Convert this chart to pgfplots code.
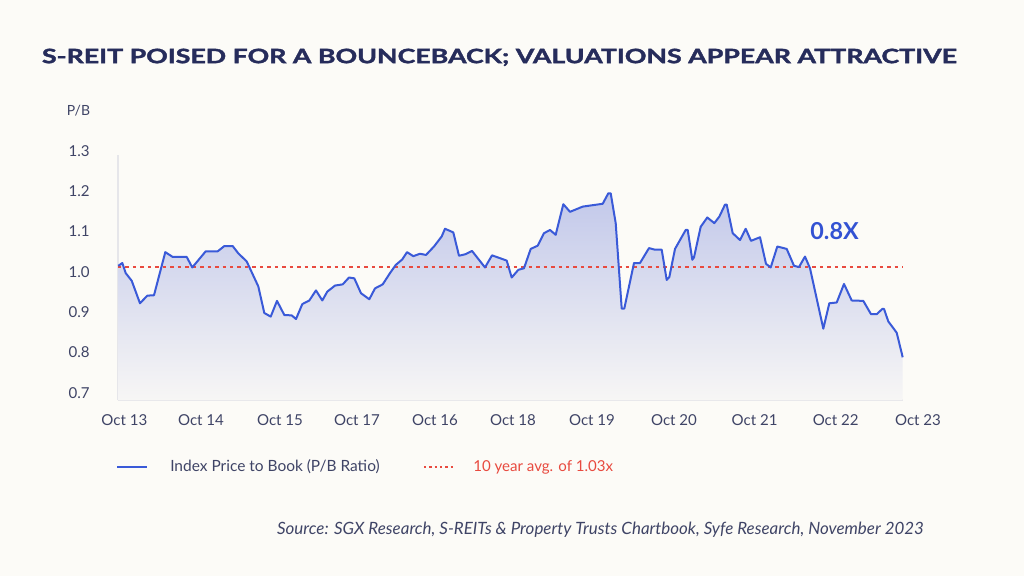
\documentclass[border=0pt]{standalone}
\usepackage{fontspec}
\setmainfont{Lato}
\newfontfamily\titlefont{Lato}[BoldFeatures={FakeBold=1.6}]
\usepackage{pgfplots}
\pgfplotsset{compat=1.18}
\usepackage{pgfplotstable}
\definecolor{bg}{HTML}{FCFBF7}
\definecolor{titlec}{HTML}{262C5B}
\definecolor{textc}{HTML}{3F4466}
\definecolor{linec}{HTML}{3A5AD8}
\definecolor{redc}{HTML}{E84A3F}
\definecolor{labc}{HTML}{3352D3}
\definecolor{filltop}{HTML}{C2C8EA}
\definecolor{fillbot}{HTML}{F7F6F5}
\definecolor{axc}{HTML}{E6E6EA}

% x = horizontal position along the time axis (Oct 13 ... Oct 23), y = P/B ratio
\pgfplotstableread{
x y
118.3 1.015
122.3 1.022
125.7 0.997
131.7 0.978
140 0.922
147.3 0.941
154 0.942
165.3 1.049
172.7 1.037
186.7 1.037
192.3 1.011
205.7 1.051
217.7 1.051
224.3 1.064
232.7 1.064
238.3 1.046
246.7 1.026
258.3 0.964
264.3 0.898
270.7 0.889
277 0.928
284.3 0.893
291.7 0.892
296 0.883
302.3 0.920
309.3 0.929
316 0.954
322.3 0.929
327.3 0.951
335 0.966
342.7 0.969
349 0.986
354.3 0.984
361 0.947
369.3 0.932
375 0.959
382.7 0.969
390 0.997
395.7 1.017
402.3 1.031
407 1.049
413.3 1.039
420 1.045
426 1.042
434 1.063
441.7 1.088
445 1.107
453.3 1.098
459 1.040
465.7 1.044
472 1.052
477.7 1.034
485 1.011
492 1.041
500 1.034
506.7 1.028
511.7 0.986
518.3 1.005
524 1.009
530.7 1.057
537.7 1.065
544 1.096
550 1.104
555.7 1.092
563.3 1.168
570 1.149
582.7 1.162
602.7 1.169
608.3 1.195
610.7 1.195
615.7 1.121
621.7 0.909
624.3 0.909
634 1.022
640 1.022
649 1.059
655 1.055
661.7 1.055
666.7 0.980
669.3 0.987
675 1.057
685.7 1.104
687.7 1.104
692.3 1.030
694 1.036
700.7 1.112
707.3 1.135
714.3 1.121
719.3 1.137
725 1.167
726.7 1.167
732.7 1.096
740 1.079
745.7 1.107
751 1.077
760 1.086
766 1.020
770.7 1.011
777.3 1.063
786.7 1.057
794 1.015
799 1.012
805 1.038
810 1.009
823.3 0.859
829.3 0.922
836.7 0.924
844 0.970
851.7 0.929
863.3 0.928
871 0.895
876.7 0.895
882.3 0.908
884 0.908
888.3 0.877
896.7 0.849
902.7 0.788
}\pbdata

\begin{document}
\begin{tikzpicture}
\useasboundingbox (0,0) rectangle (768pt,432pt);
\fill[bg] (0,0) rectangle (768pt,432pt);

% title
\node[anchor=base west, inner sep=0pt, text=titlec] at (31.3pt,384.6pt)
  {\resizebox{686pt}{10.9pt}{\titlefont\fontsize{15}{18}\selectfont\bfseries S-REIT POISED FOR A BOUNCEBACK; VALUATIONS APPEAR ATTRACTIVE}};

% P/B label
\node[anchor=base west, inner sep=0pt, text=textc] at (50pt,345.2pt)
  {\fontsize{10.5}{12}\selectfont P/B};

\begin{axis}[
  at={(88.5pt,132pt)}, anchor=south west,
  scale only axis, width=601.5pt, height=186.75pt,
  xmin=118, xmax=920, ymin=0.682, ymax=1.3,
  axis line style={draw=none},
  major tick length=0pt,
  ytick={0.7,0.8,0.9,1.0,1.1,1.2,1.3},
  yticklabels={0.7,0.8,0.9,1.0,1.1,1.2,1.3},
  xtick={124.3,201,280,357,435,513,592,674,754.6,835.7,918},
  xticklabels={Oct 13,Oct 14,Oct 15,Oct 17,Oct 16,Oct 18,Oct 19,Oct 20,Oct 21,Oct 22,Oct 23},
  ticklabel style={font=\fontsize{11.3}{13}\selectfont, text=textc, inner sep=0pt},
  yticklabel style={anchor=east, xshift=-21pt},
  xticklabel style={anchor=north, yshift=-10.5pt},
  /pgf/number format/assume math mode=true,
  clip=false,
]
% faint axis lines
\draw[axc, line width=0.8pt] (axis cs:118,0.682) -- (axis cs:903,0.682);
\draw[axc, line width=0.8pt] (axis cs:118,0.682) -- (axis cs:118,1.29);

\addplot[draw=none, top color=filltop, bottom color=fillbot]
  table[x=x,y=y] {\pbdata} -- (axis cs:902.7,0.682) -- (axis cs:118.3,0.682) -- cycle;

\addplot[redc, line width=1.4pt, dash pattern=on 2.6pt off 3pt]
  coordinates {(118,1.013) (903,1.013)};

\addplot[linec, line width=1.5pt, line join=round] table[x=x,y=y] {\pbdata};
\end{axis}

% 0.8X annotation
\node[anchor=center, inner sep=0pt, text=labc] at (625.9pt,258.5pt)
  {\fontsize{17.5}{20}\selectfont\bfseries 0.8X};

% legend
\draw[linec, line width=1.3pt] (87.75pt,81.75pt) -- (110.25pt,81.75pt);
\node[anchor=west, inner sep=0pt, text=textc] at (127.5pt,81.75pt)
  {\fontsize{11.6}{13}\selectfont Index Price to Book (P/B Ratio)};
\draw[redc, line width=1.2pt, dash pattern=on 1.8pt off 2.2pt] (318pt,81.75pt) -- (341.25pt,81.75pt);
\node[anchor=west, inner sep=0pt, text=redc] at (354.75pt,81.75pt)
  {\fontsize{11.3}{13}\selectfont 10 year avg. of 1.03x};

% source
\node[anchor=east, inner sep=0pt, text=textc] at (693pt,34.5pt)
  {\fontsize{12.7}{15}\selectfont\itshape Source: SGX Research, S-REITs \& Property Trusts Chartbook, Syfe Research, November 2023};
\end{tikzpicture}
\end{document}
